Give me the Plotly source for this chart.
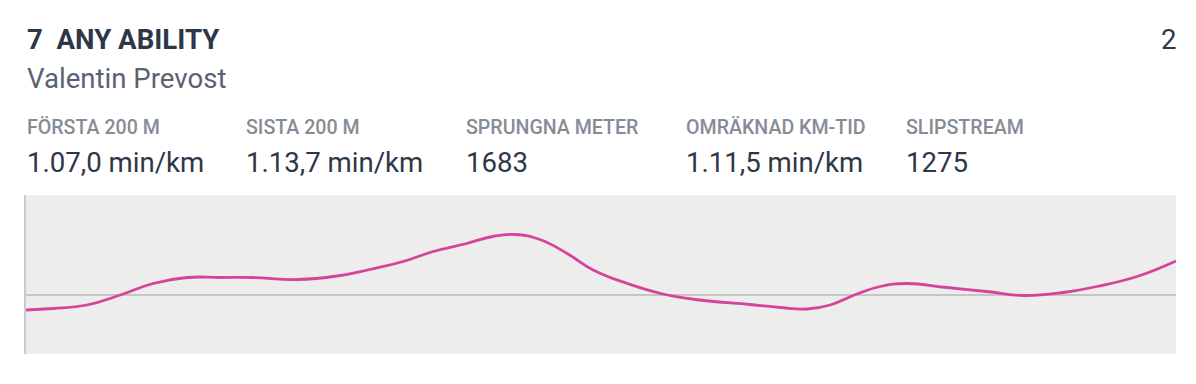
import plotly.graph_objects as go

# ---- data ----
distance_m = [0, 40, 89, 138, 186, 236, 284, 332, 397, 455, 503, 552, 596, 645, 683,
              716, 752, 792, 830, 880, 932, 986, 1060, 1103, 1143, 1177, 1216, 1250,
              1289, 1348, 1406, 1459, 1518, 1567, 1626, 1683]
deviation = [-0.30, -0.27, -0.20, 0.0, 0.23, 0.35, 0.35, 0.35, 0.31, 0.38, 0.51, 0.67,
             0.87, 1.03, 1.17, 1.21, 1.11, 0.83, 0.50, 0.23, 0.02, -0.10, -0.19, -0.25,
             -0.28, -0.20, 0.02, 0.17, 0.23, 0.15, 0.07, -0.01, 0.05, 0.17, 0.37, 0.68]

title_text = "7\u00a0\u00a0ANY ABILITY"
subtitle_text = "Valentin Prevost"
corner_text = "2"
stat_labels = ["FÖRSTA 200 M", "SISTA 200 M", "SPRUNGNA METER", "OMRÄKNAD KM-TID", "SLIPSTREAM"]
stat_values = ["1.07,0 min/km", "1.13,7 min/km", "1683", "1.11,5 min/km", "1275"]

# ---- layout geometry (pixels; page has an 8px body margin) ----
OFF = 8
W, H = 1196 - OFF, 384 - OFF
# target plot area on page: x 26..1176, y 195..354
L = 26 - OFF
T = 195 - OFF
R = W - (1176 - OFF)
B = H - (354 - OFF)
PW = W - L - R
PH = H - T - B


def px_x(x):
    """page pixel x -> paper coordinate"""
    return (x - OFF - L) / PW


def px_y(y):
    """page pixel y -> paper coordinate"""
    return (H - B - (y - OFF)) / PH


DARK = "#2d3748"
FONT = "Roboto"
BIG = 27.6
SMALL = 19.6

fig = go.Figure()
fig.add_trace(go.Scatter(
    x=distance_m, y=deviation, mode="lines",
    line=dict(color="#d6439b", width=2.8, shape="spline", smoothing=1.3),
    hoverinfo="skip", showlegend=False,
))

annotations = []
annotations.append(dict(text=f"<b>{title_text}</b>", x=px_x(25), y=px_y(58), xref="paper", yref="paper",
                        xanchor="left", yanchor="bottom", showarrow=False,
                        font=dict(family=FONT, size=BIG, color=DARK)))
annotations.append(dict(text=corner_text, x=px_x(1179), y=px_y(58), xref="paper", yref="paper",
                        xanchor="right", yanchor="bottom", showarrow=False,
                        font=dict(family=FONT, size=BIG, color=DARK)))
annotations.append(dict(text=subtitle_text, x=px_x(25), y=px_y(97), xref="paper", yref="paper",
                        xanchor="left", yanchor="bottom", showarrow=False,
                        font=dict(family=FONT, size=BIG, color="#5a6270")))
col_x = [25, 244, 464, 684, 904]
for cx, lab, val in zip(col_x, stat_labels, stat_values):
    annotations.append(dict(text=lab, x=px_x(cx), y=px_y(141), xref="paper", yref="paper",
                            xanchor="left", yanchor="bottom", showarrow=False,
                            font=dict(family=FONT, size=SMALL, color="#858c96", weight=500)))
    annotations.append(dict(text=val, x=px_x(cx), y=px_y(181), xref="paper", yref="paper",
                            xanchor="left", yanchor="bottom", showarrow=False,
                            font=dict(family=FONT, size=BIG, color=DARK)))

shapes = [
    # zero reference line
    dict(type="line", xref="paper", yref="y", x0=0, x1=1, y0=0, y1=0,
         line=dict(color="#b8b8b8", width=1.5), layer="below"),
]

fig.update_layout(
    width=W, height=H,
    margin=dict(l=L, r=R, t=T, b=B),
    paper_bgcolor="white",
    plot_bgcolor="#ededed",
    annotations=annotations,
    shapes=shapes,
    xaxis=dict(range=[0, 1683], showgrid=False, zeroline=False, showticklabels=False,
               ticks="", showline=False, fixedrange=True),
    yaxis=dict(range=[-1.18, 2.0], showgrid=False, zeroline=False, showticklabels=False,
               ticks="", showline=True, linecolor="#cbcbcb", linewidth=2, fixedrange=True),
    font=dict(family=FONT),
)

fig.write_html("out.html", config={"displayModeBar": False})
